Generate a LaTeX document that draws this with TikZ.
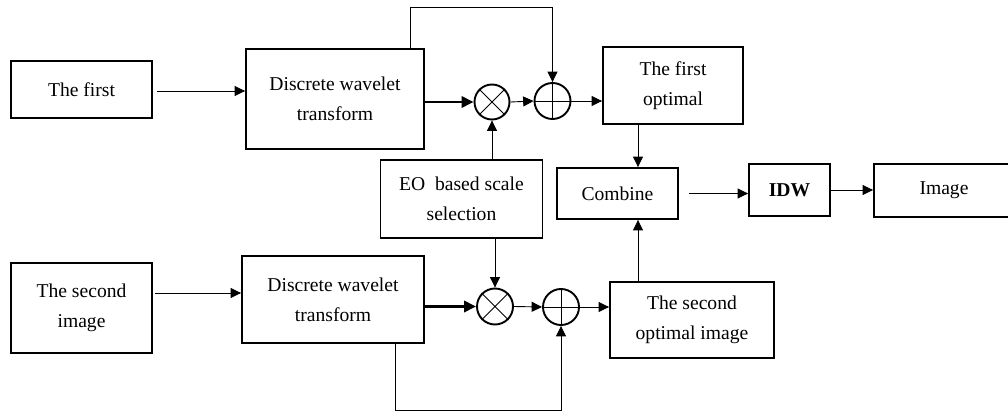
\documentclass[tikz,border=0pt]{standalone}
\usepackage{fontspec}
\setmainfont{Liberation Serif}
\usetikzlibrary{arrows.meta}
\begin{document}
\begin{tikzpicture}[x=0.5pt,y=-0.5pt,
  box/.style={draw, line width=0.95pt, align=center, inner sep=0pt,
    font=\fontsize{9.8}{15}\selectfont},
  junc/.style={draw, circle, line width=0.95pt, inner sep=0pt},
  arr/.style={line width=0.45pt, -{Triangle[length=5.2pt,width=5pt]}},
  thickarr/.style={line width=1.4pt, -{Triangle[length=6pt,width=5.6pt]}},
  sym/.style={line width=0.5pt}]
\useasboundingbox (0,0) rectangle (1008,412);
% boxes
\node[box, minimum width=70.5pt, minimum height=28.5pt] (first) at (81.5,89.5) {The first};
\node[box, minimum width=89pt, minimum height=50pt] (dwt1) at (335,99) {Discrete wavelet\\transform};
\node[box, minimum width=70pt, minimum height=38.5pt] (opt1) at (673,85.5) {The first\\optimal};
\node[box, minimum width=81pt, minimum height=39pt] (eo) at (461.5,199) {EO\ \ based scale\\selection};
\node[box, minimum width=60.5pt, minimum height=25.5pt] (comb) at (617.5,193.5) {Combine};
\node[box, minimum width=40.5pt, minimum height=26pt, font=\fontsize{9.8}{15}\selectfont\bfseries] (idw) at (789.5,190) {IDW};
\node[box, minimum width=70pt, minimum height=26.5pt] (img) at (944,190.5) {Image};
\node[box, minimum width=70.5pt, minimum height=45pt] (second) at (81.5,308) {The second\\image};
\node[box, minimum width=91pt, minimum height=43.5pt] (dwt2) at (333,299.5) {Discrete wavelet\\transform};
\node[box, minimum width=82pt, minimum height=38pt] (opt2) at (692,320) {The second\\optimal image};
% junctions
\node[junc, minimum size=17.5pt] (ot1) at (492,102) {};
\draw[sym] (ot1.north east) -- (ot1.south west) (ot1.north west) -- (ot1.south east);
\node[junc, minimum size=18pt] (op1) at (552.5,101) {};
\draw[sym] (op1.north) -- (op1.south) (op1.west) -- (op1.east);
\node[junc, minimum size=18pt] (ot2) at (495,306.5) {};
\draw[sym] (ot2.north east) -- (ot2.south west) (ot2.north west) -- (ot2.south east);
\node[junc, minimum size=18pt] (op2) at (561,307) {};
\draw[sym] (op2.north) -- (op2.south) (op2.west) -- (op2.east);
% helper coordinates
\coordinate (top) at (480,7);
\coordinate (bot) at (480,410);
\coordinate (cx) at (638,0);
\coordinate (s1) at (157,91);
\coordinate (s2) at (155,293);
\coordinate (fb1) at (410,0);
\coordinate (fb2) at (395,0);
% connectors
\draw[arr] (s1) -- (s1 -| dwt1.west);
\draw[thickarr] (dwt1.east |- ot1) -- (ot1.west);
\draw[arr] (ot1.east) -- (op1.west);
\draw[arr] (op1.east) -- (op1.east -| opt1.west);
\draw[arr] (dwt1.north -| fb1) -- (top -| fb1) -| (op1.north);
\draw[arr] (eo.north -| ot1) -- (ot1.south);
\draw[arr] (eo.south -| ot2) -- (ot2.north);
\draw[arr] (opt1.south -| cx) -- (comb.north -| cx);
\draw[arr] (opt2.north -| cx) -- (comb.south -| cx);
\draw[arr, shorten <=5pt] (comb.east) -- (comb.east -| idw.west);
\draw[arr] (idw.east) -- (idw.east -| img.west);
\draw[arr] (s2) -- (s2 -| dwt2.west);
\draw[thickarr] (dwt2.east |- ot2) -- (ot2.west);
\draw[arr] (ot2.east) -- (op2.west);
\draw[arr] (op2.east) -- (op2.east -| opt2.west);
\draw[arr] (dwt2.south -| fb2) -- (bot -| fb2) -| (op2.south);
\end{tikzpicture}
\end{document}
